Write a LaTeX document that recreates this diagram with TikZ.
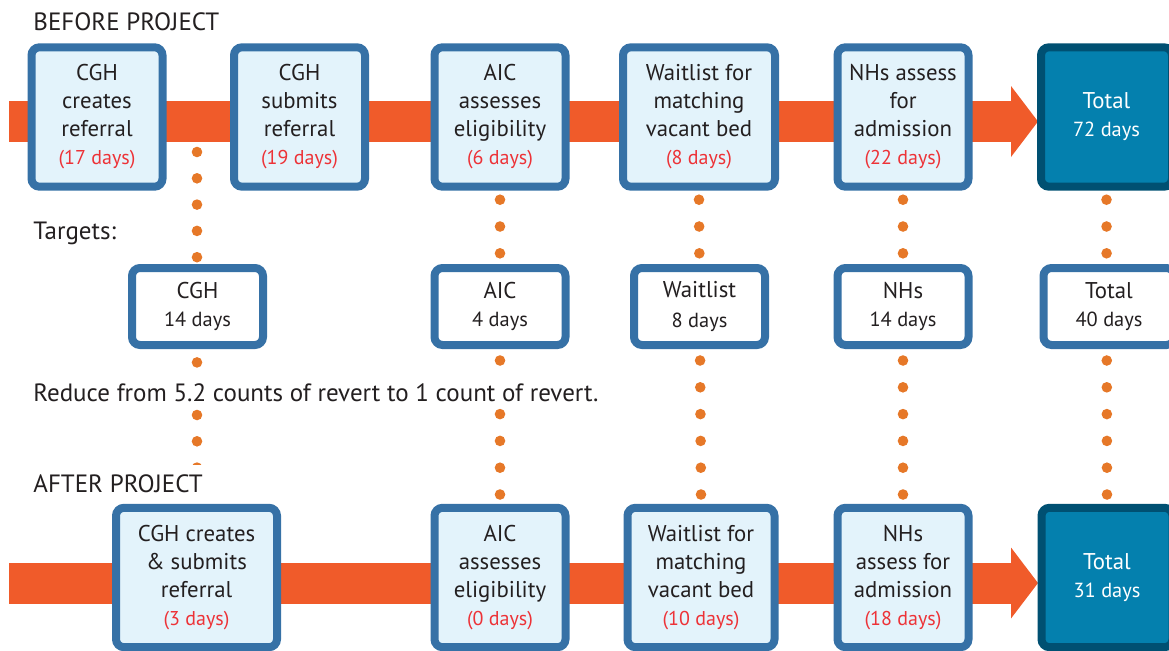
\documentclass[tikz,border=0pt]{standalone}
\usepackage{fontspec}
\setmainfont{PT Sans}
\usetikzlibrary{backgrounds}
\definecolor{bandorange}{HTML}{F05B2A}
\definecolor{dotorange}{HTML}{E67828}
\definecolor{boxblue}{HTML}{3671A6}
\definecolor{boxfill}{HTML}{E3F3FB}
\definecolor{totfill}{HTML}{0480AE}
\definecolor{totline}{HTML}{005072}
\definecolor{dayred}{HTML}{ED3237}
\definecolor{labelgray}{HTML}{231F20}
\newcommand{\dayslbl}[1]{{\fontsize{10}{12}\selectfont\color{dayred}(#1 days)}}
\newcommand{\smalldays}[1]{{\fontsize{10.2}{12}\selectfont #1 days}}
\begin{document}
\begin{tikzpicture}[x=0.5pt,y=-0.5pt,
	every node/.style={text=labelgray,font=\fontsize{11.4}{14}\selectfont},
	stepbox/.style={draw=boxblue,fill=boxfill,line width=4pt,rounded corners=4pt,align=center,inner sep=0pt,minimum width=65.5pt,minimum height=69.7pt},
	totbox/.style={stepbox,draw=totline,fill=totfill,text=white},
	targetbox/.style={draw=boxblue,fill=white,line width=4pt,rounded corners=4pt,align=center,inner sep=0pt,minimum width=65.5pt,minimum height=38.5pt},
	heading/.style={anchor=west,fill=white,inner xsep=0pt,inner ysep=3pt,font=\fontsize{12.5}{15}\selectfont},
	dotcol/.style={dotorange,line width=5.3pt,line cap=round,dash pattern=on 0pt off 13.4pt},
	band/.style={bandorange,line width=20.5pt}]
	\useasboundingbox (0,0) rectangle (1169,650);
	\node[heading] (before) at (33,22) {BEFORE PROJECT};
	\node[stepbox] (cgh1) at (97,117) {CGH\\creates\\referral\\\dayslbl{17}};
	\node[stepbox] (cgh2) at (299.5,117) {CGH\\submits\\referral\\\dayslbl{19}};
	\node[stepbox] (aic1) at (500,117) {AIC\\assesses\\eligibility\\\dayslbl{6}};
	\node[stepbox,minimum width=76pt] (wait1) at (699,117) {Waitlist for\\matching\\vacant bed\\\dayslbl{8}};
	\node[stepbox] (nhs1) at (903,117) {NHs assess\\for\\admission\\\dayslbl{22}};
	\node[totbox] (tot1) at (1106.5,117) {Total\\\smalldays{72}};
	\node[heading] (targets) at (33,233) {Targets:};
	\node[targetbox] (cghT) at (197.5,306.5) {CGH\\\smalldays{14}};
	\node[targetbox] (aicT) at (500,306.5) {AIC\\\smalldays{4}};
	\node[targetbox] (waitT) at (699.5,306.5) {Waitlist\\[1pt]\smalldays{8}};
	\node[targetbox] (nhsT) at (903,306.5) {NHs\\\smalldays{14}};
	\node[targetbox] (totT) at (1109,306.5) {Total\\\smalldays{40}};
	\node[heading] (reduce) at (33,393) {Reduce from 5.2 counts of revert to 1 count of revert.};
	\node[heading,inner ysep=0pt,minimum height=19pt] (after) at (33,484) {AFTER PROJECT};
	\node[stepbox,minimum width=80.5pt] (cgh3) at (196.5,577.5) {CGH creates\\\& submits\\referral\\\dayslbl{3}};
	\node[stepbox] (aic3) at (500,577.5) {AIC\\assesses\\eligibility\\\dayslbl{0}};
	\node[stepbox,minimum width=73.5pt] (wait3) at (701,577.5) {Waitlist for\\matching\\vacant bed\\\dayslbl{10}};
	\node[stepbox] (nhs3) at (903,577.5) {NHs\\assess for\\admission\\\dayslbl{18}};
	\node[totbox] (tot3) at (1107,577.5) {Total\\\smalldays{31}};
	\coordinate (band1) at (9,121.5);
	\coordinate (head1) at (1011,121.5);
	\coordinate (tip1) at (1038,121.5);
	\coordinate (band3) at (9,583);
	\coordinate (head3) at (1011,583);
	\coordinate (tip3) at (1038,583);
	\coordinate (dotA) at (197,152);
	\coordinate (dotB) at (197,469);
	\begin{scope}[on background layer]
		\draw[band] (band1) -- (head1);
		\fill[bandorange] (tip1) -- ([yshift=17.75pt]head1) -- ([yshift=-17.75pt]head1) -- cycle;
		\draw[band] (band3) -- (head3);
		\fill[bandorange] (tip3) -- ([yshift=17.75pt]head3) -- ([yshift=-17.75pt]head3) -- cycle;
		\draw[dotcol,dash pattern=on 0pt off 13.15pt] (dotA) -- (dotB);
		\draw[dotcol] ([yshift=-4.5pt]aic1.south) -- ([yshift=4pt]aic3.north);
		\draw[dotcol] ([yshift=-4.5pt]wait1.south) -- ([yshift=4pt]wait3.north);
		\draw[dotcol] ([yshift=-4.5pt]nhs1.south) -- ([yshift=4pt]nhs3.north);
		\draw[dotcol] ([yshift=-4.5pt]tot1.south) -- ([yshift=4pt]tot3.north);
	\end{scope}
\end{tikzpicture}
\end{document}
